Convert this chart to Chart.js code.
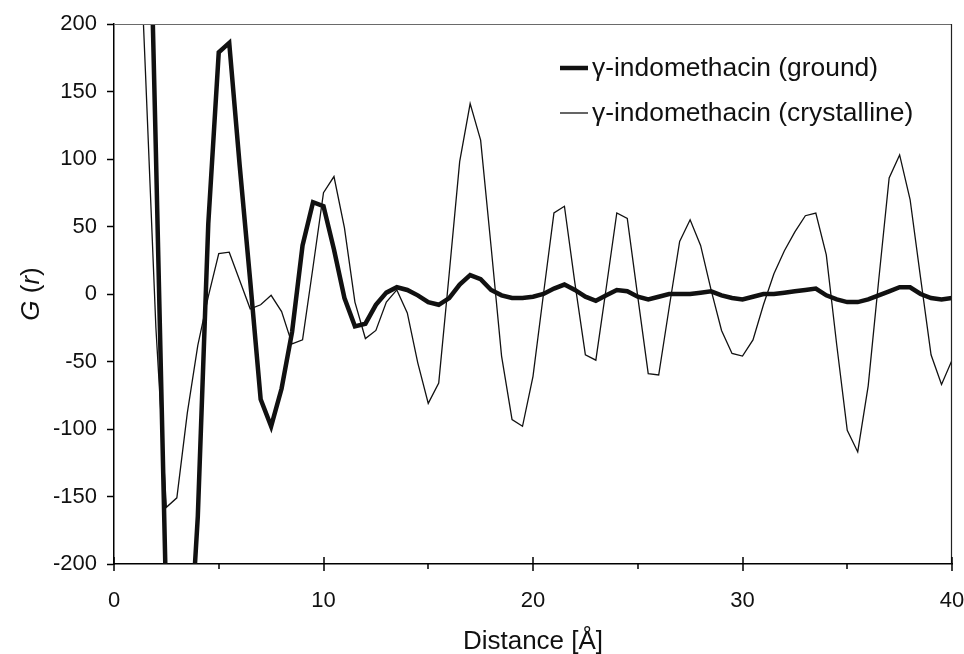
<!DOCTYPE html>
<html>
<head>
<meta charset="utf-8">
<title>G(r) indomethacin</title>
<script src="https://cdn.jsdelivr.net/npm/chart.js@4.4.1/dist/chart.umd.min.js"></script>
<style>
  html, body { margin: 0; padding: 0; background: #fff; }
  #grafica { display: block; }
</style>
</head>
<body>
<canvas id="grafica" width="964" height="654"></canvas>
<script>
// Distancia r en Å (paso de 0.5)
const distancia = [
  0, 0.5, 1, 1.5, 2, 2.5, 3, 3.5, 4, 4.5,
  5, 5.5, 6, 6.5, 7, 7.5, 8, 8.5, 9, 9.5,
  10, 10.5, 11, 11.5, 12, 12.5, 13, 13.5, 14, 14.5,
  15, 15.5, 16, 16.5, 17, 17.5, 18, 18.5, 19, 19.5,
  20, 20.5, 21, 21.5, 22, 22.5, 23, 23.5, 24, 24.5,
  25, 25.5, 26, 26.5, 27, 27.5, 28, 28.5, 29, 29.5,
  30, 30.5, 31, 31.5, 32, 32.5, 33, 33.5, 34, 34.5,
  35, 35.5, 36, 36.5, 37, 37.5, 38, 38.5, 39, 39.5,
  40
];

// G(r) muestra molida (línea gruesa)
const molido = [
  null, null, null, 430, 105, -235, -330, -295, -165, 52,
  179, 186, 95, 10, -78, -98, -70, -28, 36, 68,
  65, 33, -3, -24, -22, -8, 1, 5, 3, -1,
  -6, -8, -3, 7, 14, 11, 3, -1, -3, -3,
  -2, 0, 4, 7, 3, -2, -5, -1, 3, 2,
  -2, -4, -2, 0, 0, 0, 1, 2, -1, -3,
  -4, -2, 0, 0, 1, 2, 3, 4, -1, -4,
  -6, -6, -4, -1, 2, 5, 5, 0, -3, -4,
  -3
];

// G(r) muestra cristalina (línea fina)
const cristalino = [
  null, null, 350, 165, -25, -158, -151, -88, -38, -2,
  30, 31, 10, -11, -8, -1, -13, -37, -34, 20,
  75, 87, 49, -6, -33, -27, -6, 3, -14, -51,
  -81, -66, 15, 98, 141, 114, 35, -46, -93, -98,
  -61, 0, 60, 65, 8, -45, -49, 5, 60, 56,
  -2, -59, -60, -10, 39, 55, 36, 3, -27, -44,
  -46, -34, -8, 15, 32, 46, 58, 60, 29, -38,
  -101, -117, -68, 10, 86, 103, 70, 12, -45, -67,
  -49
];

const etiquetas = ["\u03b3-indomethacin (ground)", "\u03b3-indomethacin (crystalline)"];
const tituloX = "Distance [\u00c5]";

const fuente = '"Liberation Sans", Arial, sans-serif';

function puntos(serie) {
  return distancia.map((r, i) => ({ x: r, y: serie[i] }));
}

// Marco superior/derecho y marcas del eje x (mayores cruzadas, menores fuera)
const marco = {
  id: 'marco',
  afterDraw(chart) {
    const { ctx, chartArea: a, scales: { x } } = chart;
    ctx.save();
    ctx.lineWidth = 1.2;
    ctx.strokeStyle = '#6a6a6a';
    ctx.beginPath();
    ctx.moveTo(a.left, a.top + 0.5);
    ctx.lineTo(a.right, a.top + 0.5);
    ctx.stroke();
    ctx.strokeStyle = '#222';
    ctx.beginPath();
    ctx.moveTo(a.right - 0.5, a.top);
    ctx.lineTo(a.right - 0.5, a.bottom);
    ctx.stroke();

    ctx.strokeStyle = '#000';
    ctx.lineWidth = 1.5;
    const vals = x.ticks.map(t => t.value);
    ctx.beginPath();
    vals.forEach((v, i) => {
      const px = Math.round(x.getPixelForValue(v));
      ctx.moveTo(px, a.bottom - 7);
      ctx.lineTo(px, a.bottom + 7);
      if (i < vals.length - 1) {
        const pm = Math.round(x.getPixelForValue((v + vals[i + 1]) / 2));
        ctx.moveTo(pm, a.bottom);
        ctx.lineTo(pm, a.bottom + 5);
      }
    });
    ctx.stroke();
    ctx.restore();
  }
};

// Título del eje y: G (r) con G y r en cursiva
const tituloY = {
  id: 'tituloY',
  afterDraw(chart) {
    const { ctx, chartArea: a } = chart;
    const partes = [
      { t: 'G', it: true },
      { t: ' (', it: false },
      { t: 'r', it: true },
      { t: ')', it: false }
    ];
    ctx.save();
    ctx.translate(32, (a.top + a.bottom) / 2);
    ctx.rotate(-Math.PI / 2);
    ctx.fillStyle = '#111';
    ctx.textBaseline = 'middle';
    let total = 0;
    partes.forEach(p => {
      ctx.font = (p.it ? 'italic ' : '') + '26px ' + fuente;
      p.w = ctx.measureText(p.t).width;
      total += p.w;
    });
    let cx = -total / 2;
    partes.forEach(p => {
      ctx.font = (p.it ? 'italic ' : '') + '26px ' + fuente;
      ctx.fillText(p.t, cx, 0);
      cx += p.w;
    });
    ctx.restore();
  }
};

// Leyenda dentro del área del gráfico
const leyenda = {
  id: 'leyenda',
  afterDraw(chart) {
    const { ctx } = chart;
    ctx.save();
    ctx.font = '26.4px ' + fuente;
    ctx.textBaseline = 'middle';
    ctx.fillStyle = '#111';
    chart.data.datasets.forEach((ds, i) => {
      const y = 68 + i * 45;
      ctx.strokeStyle = ds.borderColor;
      ctx.lineWidth = ds.borderWidth;
      ctx.beginPath();
      ctx.moveTo(560, y);
      ctx.lineTo(588, y);
      ctx.stroke();
      ctx.fillText(ds.label, 592, y + 1);
    });
    ctx.restore();
  }
};

function dibuja() {
  const ctx = document.getElementById('grafica').getContext('2d');
  new Chart(ctx, {
    type: 'line',
    data: {
      datasets: [
        {
          label: etiquetas[0],
          data: puntos(molido),
          borderColor: '#111',
          borderWidth: 4.5,
          pointRadius: 0,
          tension: 0,
          clip: 0,
          order: 1
        },
        {
          label: etiquetas[1],
          data: puntos(cristalino),
          borderColor: '#111',
          borderWidth: 1.3,
          pointRadius: 0,
          tension: 0,
          clip: 0,
          order: 0
        }
      ]
    },
    options: {
      responsive: false,
      animation: false,
      events: [],
      layout: { padding: { top: 24, right: 12, left: 0, bottom: 0 } },
      plugins: {
        legend: { display: false },
        tooltip: { enabled: false }
      },
      scales: {
        x: {
          type: 'linear',
          min: 0,
          max: 40,
          ticks: {
            stepSize: 10,
            color: '#111',
            font: { family: fuente, size: 22 },
            padding: 24,
            maxRotation: 0
          },
          grid: { display: true, drawOnChartArea: false, drawTicks: false, color: '#000' },
          border: { color: '#000', width: 1.5 },
          title: {
            display: true,
            text: tituloX,
            color: '#111',
            font: { family: fuente, size: 26 },
            padding: { top: 0, bottom: -3 }
          },
          afterFit: s => {
            s.height = 90;
            s.paddingLeft = 0;
            s.paddingRight = 0;
          }
        },
        y: {
          min: -200,
          max: 200,
          ticks: {
            stepSize: 50,
            color: '#111',
            font: { family: fuente, size: 22 },
            padding: 10
          },
          grid: { drawOnChartArea: false, drawTicks: true, tickLength: 7, color: '#000', tickWidth: 1.5 },
          border: { color: '#000', width: 1.5 },
          afterFit: s => { s.width = 114; }
        }
      }
    },
    plugins: [marco, tituloY, leyenda]
  });
}

document.addEventListener('DOMContentLoaded', dibuja);
</script>
</body>
</html>
